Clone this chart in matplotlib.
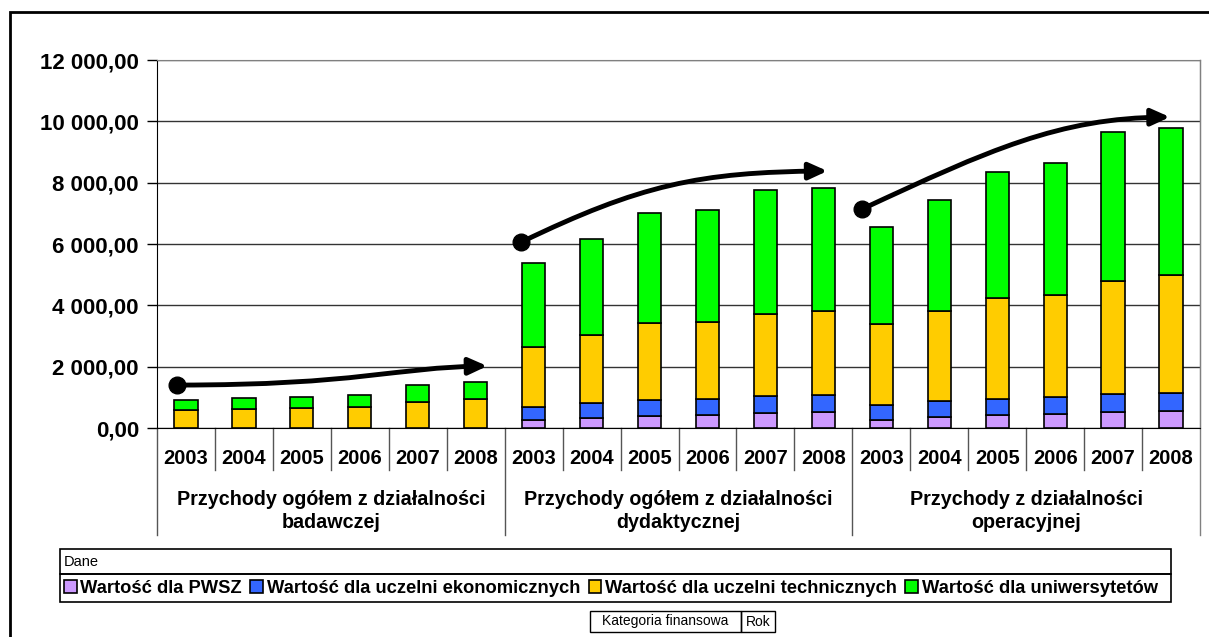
import matplotlib
matplotlib.use('Agg')
import matplotlib.pyplot as plt
import numpy as np
from matplotlib.patches import Rectangle, FancyArrowPatch
from matplotlib.path import Path
from matplotlib.ticker import FuncFormatter

plt.rcParams['font.family'] = 'Liberation Sans'

# categories
years = ['2003', '2004', '2005', '2006', '2007', '2008'] * 3
groups = ['Przychody ogółem z działalności\nbadawczej',
          'Przychody ogółem z działalności\ndydaktycznej',
          'Przychody z działalności\noperacyjnej']

# series values (badawcza, dydaktyczna, operacyjna)
pwsz = [2, 2, 3, 3, 3, 3,
        261, 326, 391, 434, 499, 522,
        261, 346, 411, 456, 509, 541]
ekonom = [8, 9, 10, 11, 12, 13,
          434, 499, 522, 521, 544, 564,
          476, 521, 544, 565, 600, 613]
techn = [583, 615, 646, 665, 849, 923,
         1956, 2207, 2498, 2511, 2661, 2716,
         2641, 2948, 3293, 3315, 3694, 3844]
uniw = [327, 359, 368, 404, 554, 567,
        2719, 3131, 3599, 3629, 4056, 4010,
        3175, 3629, 4109, 4304, 4835, 4784]

series_names = ['Wartość dla PWSZ', 'Wartość dla uczelni ekonomicznych',
                'Wartość dla uczelni technicznych', 'Wartość dla uniwersytetów']
colors = ['#CC99FF', '#3366FF', '#FFCC00', '#00FF00']

# trend arrows: bezier control points (category index, value)
arrows = [
    [(-0.15, 1400), (3.0, 1400), (3.6, 1980), (5.2, 2020)],
    [(5.79, 6065), (7.83, 7925), (8.86, 8350), (11.07, 8380)],
    [(11.67, 7140), (13.86, 9065), (15.07, 10110), (16.98, 10140)],
]

fig = plt.figure(figsize=(12.09, 6.37), dpi=100)
ax = fig.add_axes([157/1209, 1-428/637, (1200-157)/1209, (428-60)/637])

x = np.arange(len(years))
bottom = np.zeros(len(years))
handles = []
for vals, c in zip([pwsz, ekonom, techn, uniw], colors):
    b = ax.bar(x, vals, width=0.4, bottom=bottom, color=c, edgecolor='black', linewidth=1.2, zorder=3)
    handles.append(b)
    bottom += np.array(vals)

ax.set_xlim(-0.5, 17.5)
ax.set_ylim(0, 12000)
ax.set_yticks(np.arange(0, 12001, 2000))
ax.yaxis.set_major_formatter(FuncFormatter(lambda v, p: '{:,.2f}'.format(v).replace(',', ' ').replace('.', ',')))
for t in ax.get_yticklabels():
    t.set_fontweight('bold')
ax.tick_params(axis='y', labelsize=16, length=7, width=1, direction='out', pad=6)
ax.tick_params(axis='x', length=0, labelbottom=False)
ax.grid(axis='y', color='#333333', linewidth=1, zorder=0)

for s in ['top', 'right']:
    ax.spines[s].set_color('#808080')
ax.spines['left'].set_color('black')
ax.spines['bottom'].set_color('black')

# multi-level category axis
tr = ax.get_xaxis_transform()
for i, yr in enumerate(years):
    ax.text(i, -0.082, yr, transform=tr, ha='center', va='center', fontsize=14.5, fontweight='bold')
for k in np.arange(0.5, 17, 1.0):
    if k in (5.5, 11.5):
        continue
    ax.plot([k, k], [0, -0.114], transform=tr, color='#555555', lw=1, clip_on=False)
for k in [-0.5, 5.5, 11.5]:
    ax.plot([k, k], [0, -0.291], transform=tr, color='#555555', lw=1, clip_on=False)
ax.plot([17.5, 17.5], [1, -0.291], transform=tr, color='#808080', lw=1, clip_on=False)
for g, name in enumerate(groups):
    ax.text(g*6 + 2.5, -0.225, name, transform=tr, ha='center', va='center',
            fontsize=14.2, fontweight='bold', linespacing=1.25)

# trend arrows
codes = [Path.MOVETO, Path.CURVE4, Path.CURVE4, Path.CURVE4]
for pts in arrows:
    arr = FancyArrowPatch(path=Path(pts, codes), arrowstyle='-|>,head_length=11,head_width=5',
                          color='black', lw=3.5, zorder=5)
    ax.add_patch(arr)
    ax.plot(pts[0][0], pts[0][1], 'o', color='black', markersize=12, zorder=6, clip_on=False)

# legend table
def fig_box(x0, y0, x1, y1, lw=1.2, color='black'):
    fig.patches.append(Rectangle((x0/1209, 1-y1/637), (x1-x0)/1209, (y1-y0)/637,
                                 transform=fig.transFigure, fill=False, edgecolor=color, lw=lw))

fig_box(60, 549, 1171, 574)
fig_box(60, 574, 1171, 602)
fig.text(64/1209, 1-562/637, 'Dane', fontsize=10.5, va='center', ha='left')
fig.legend(handles, series_names, loc='center left', bbox_to_anchor=(64/1209, 1-588.5/637),
           ncol=4, frameon=False, prop={'weight': 'bold', 'size': 13.2},
           handlelength=0.7, handleheight=0.7, handletextpad=0.2, columnspacing=0.45,
           borderpad=0, borderaxespad=0)

fig_box(590, 611, 741, 632, lw=1)
fig_box(741, 611, 775, 632, lw=1)
fig.text(665.5/1209, 1-621.5/637, 'Kategoria finansowa', fontsize=10, ha='center', va='center')
fig.text(758/1209, 1-621.5/637, 'Rok', fontsize=10, ha='center', va='center')

# outer frame
fig.patches.append(Rectangle((10/1209, -0.1), 1.2, 1-12/637+0.1, transform=fig.transFigure,
                             fill=False, edgecolor='black', lw=2))

fig.savefig('out.png', dpi=100)
